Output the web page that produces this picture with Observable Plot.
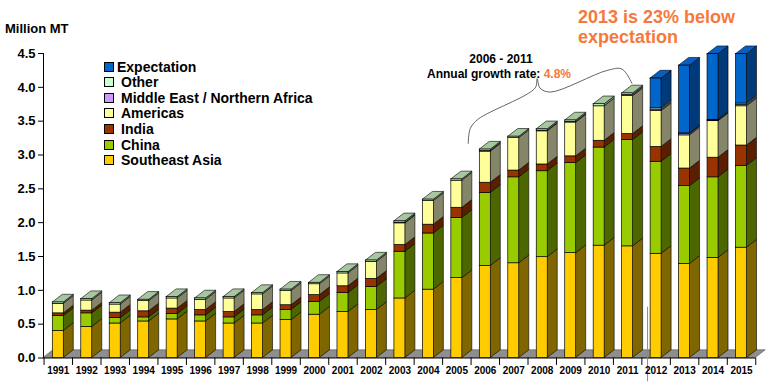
<!DOCTYPE html>
<html><head><meta charset="utf-8">
<script src="https://cdn.jsdelivr.net/npm/d3@7"></script>
<script src="https://cdn.jsdelivr.net/npm/@observablehq/plot@0.6"></script>
<style>
body{margin:0;background:#fff;}
#wrap{position:relative;width:777px;height:388px;font-family:"Liberation Sans",Arial,sans-serif;font-weight:bold;color:#000;}
#wrap svg{position:absolute;left:0;top:0;}
.ov{position:absolute;white-space:nowrap;line-height:1;}
.sw{position:absolute;width:8px;height:8px;border:1px solid #000;}
</style></head><body><div id="wrap"></div>
<script>
// ---- data (Million MT) ----
const years = [1991,1992,1993,1994,1995,1996,1997,1998,1999,2000,2001,2002,2003,2004,2005,2006,2007,2008,2009,2010,2011,2012,2013,2014,2015];
const southeastAsia = [0.40,0.46,0.51,0.54,0.57,0.54,0.51,0.51,0.56,0.64,0.68,0.71,0.88,1.01,1.18,1.36,1.40,1.49,1.55,1.66,1.65,1.54,1.39,1.48,1.63];
const china         = [0.22,0.20,0.08,0.06,0.08,0.09,0.09,0.12,0.15,0.19,0.28,0.34,0.69,0.83,0.89,1.08,1.27,1.27,1.33,1.45,1.57,1.36,1.15,1.19,1.21];
const india         = [0.04,0.04,0.08,0.09,0.08,0.08,0.08,0.08,0.07,0.10,0.10,0.12,0.10,0.13,0.15,0.15,0.10,0.10,0.10,0.10,0.09,0.22,0.26,0.29,0.30];
const americas      = [0.14,0.15,0.12,0.15,0.15,0.15,0.20,0.23,0.21,0.16,0.19,0.25,0.32,0.35,0.40,0.46,0.48,0.49,0.50,0.51,0.56,0.53,0.49,0.54,0.58];
const middleEastNA  = [0,0,0,0,0,0,0,0,0,0,0,0,0.01,0,0,0.01,0,0.01,0.01,0,0.02,0.02,0.02,0.01,0.02];
const other         = [0.02,0.02,0.02,0.02,0.02,0.02,0.02,0.02,0.02,0.02,0.02,0.02,0.02,0.02,0.02,0.02,0.02,0.02,0.02,0.03,0.02,0.02,0.01,0.01,0.02];
const expectation   = [0,0,0,0,0,0,0,0,0,0,0,0,0,0,0,0,0,0,0,0,0,0.44,1.00,0.97,0.73];
const yTicks = [0,0.5,1,1.5,2,2.5,3,3.5,4,4.5];

const seriesNames  = ["Southeast Asia","China","India","Americas","Middle East / Northern Africa","Other","Expectation"];
const seriesValues = [southeastAsia, china, india, americas, middleEastNA, other, expectation];
const frontColors  = ["#FFCC00","#99CC00","#993300","#FFFF99","#CC99FF","#CCFFCC","#0066CC"];
const sideColors   = ["#7F6600","#4C6600","#5A1E00","#85856A","#6E5A8C","#7A997A","#003A78"];
const topColors    = ["#D9AD00","#82AD00","#7A2900","#D9D982","#B08AD9","#A6C79E","#0A5EC0"];
const legendOrder  = [6,5,4,3,2,1,0];

// annotation brace (year, Million MT)
const braceYears  = [2005.40,2005.47,2005.75,2007.75,2007.82,2007.92,2008.28,2010.28,2010.80,2011.15];
const braceValues = [3.17,3.39,3.53,3.99,4.13,3.99,3.93,4.25,4.27,4.06];

// ---- geometry (3-D look) ----
const halfW = 0.193, dX = 0.351, dY = 0.114;
const segs = [], sides = [], tops = [];
years.forEach((yr, i) => {
  let acc = 0, topJ = -1;
  seriesValues.forEach((vals, j) => {
    const v = vals[i];
    if (v > 0) {
      const s = {year: yr, lo: acc, hi: acc + v, j};
      segs.push(s);
      const id = yr + "-" + j, xr = yr + halfW;
      sides.push({id, x: xr, y1: s.lo, y2: s.hi, fill: sideColors[j]});
      sides.push({id, x: xr + dX, y1: s.lo + dY, y2: s.hi + dY, fill: sideColors[j]});
      acc += v; topJ = j;
    }
  });
  const xl = yr - halfW, xr = yr + halfW, T = acc, c = topColors[topJ];
  tops.push({id: yr, x: xl, y1: T, y2: T, fill: c});
  tops.push({id: yr, x: xl + dX, y1: T, y2: T + dY, fill: c});
  tops.push({id: yr, x: xr, y1: T, y2: T + dY, fill: c});
  tops.push({id: yr, x: xr + dX, y1: T + dY, y2: T + dY, fill: c});
});
const x0 = 1990.48, x1 = years[years.length - 1] + 0.5;
const floor = [
  {x: x0, y1: 0, y2: 0}, {x: x0 + dX, y1: 0, y2: dY},
  {x: x1, y1: 0, y2: dY}, {x: x1 + dX, y1: dY, y2: dY}
];
const boundaries = [years[0] - 0.5, ...years.map(y => y + 0.5)];
const brace = braceYears.map((x, i) => ({x, y: braceValues[i]}));

const chart = Plot.plot({
  width: 777, height: 388,
  marginLeft: 43, marginRight: 11.5, marginTop: 53, marginBottom: 30.5,
  x: {domain: [x0, 2015.86], axis: null},
  y: {domain: [0, 4.5], ticks: yTicks, tickFormat: d => d.toFixed(1), label: null, line: true, tickSize: 5, tickPadding: 3},
  color: {type: "identity"},
  style: {fontFamily: "'Liberation Sans', Arial, sans-serif", fontSize: "13px", fontWeight: "bold", color: "#000", background: "transparent", overflow: "visible"},
  marks: [
    Plot.areaY(floor, {x: "x", y1: "y1", y2: "y2", fill: "#8E8E8E", stroke: "#555", strokeWidth: 0.6}),
    Plot.ruleY([0], {x1: x0, x2: x1, stroke: "#000", strokeWidth: 1}),
    Plot.ruleX(boundaries, {y1: 0, y2: -0.11, stroke: "#000", strokeWidth: 1}),
    Plot.ruleX([2011.7], {y1: -0.35, y2: 0.75, stroke: "#888", strokeWidth: 1}),
    Plot.areaY(sides, {x: "x", y1: "y1", y2: "y2", z: "id", fill: "fill", stroke: "#000", strokeWidth: 0.6}),
    Plot.areaY(tops, {x: "x", y1: "y1", y2: "y2", z: "id", fill: "fill", stroke: "#000", strokeWidth: 0.6}),
    Plot.rect(segs, {x1: d => d.year - halfW, x2: d => d.year + halfW, y1: "lo", y2: "hi", fill: d => frontColors[d.j], stroke: "#000", strokeWidth: 0.7}),
    Plot.text(years, {x: d => d, frameAnchor: "bottom", dy: 16, text: d => String(d), fontSize: 10, fontWeight: "bold"}),
    Plot.line(brace, {x: "x", y: "y", curve: "catmull-rom", stroke: "#555", strokeWidth: 0.9})
  ]
});
const wrap = document.getElementById("wrap");
wrap.appendChild(chart);

function ov(text, left, top, size, color, extra) {
  const d = document.createElement("div");
  d.className = "ov";
  d.style.left = left + "px"; d.style.top = top + "px";
  d.style.fontSize = size + "px"; d.style.color = color || "#000";
  if (extra) Object.assign(d.style, extra);
  d.innerHTML = text;
  wrap.appendChild(d);
  return d;
}
ov("Million MT", 5, 22, 13);
ov("2013 is 23% below", 578, 8.3, 18, "#F5793B");
ov("expectation", 578, 27.8, 18, "#F5793B");
ov("2006 - 2011", 468, 53.1, 12, "#000", {width: "66px", textAlign: "center"});
ov('Annual growth rate: <span style="color:#F5793B">4.8%</span>', 427, 68.1, 12);

const rowY = [66.5, 82, 97.7, 113.3, 128.9, 144.5, 160.1];
legendOrder.forEach((j, r) => {
  const c = rowY[r];
  const sq = document.createElement("div");
  sq.className = "sw";
  sq.style.left = "104px"; sq.style.top = (c - 5) + "px";
  sq.style.background = frontColors[j];
  wrap.appendChild(sq);
  ov(seriesNames[j], j === 6 ? 117 : 121, c - 6.9, 14);
});
</script></body></html>
